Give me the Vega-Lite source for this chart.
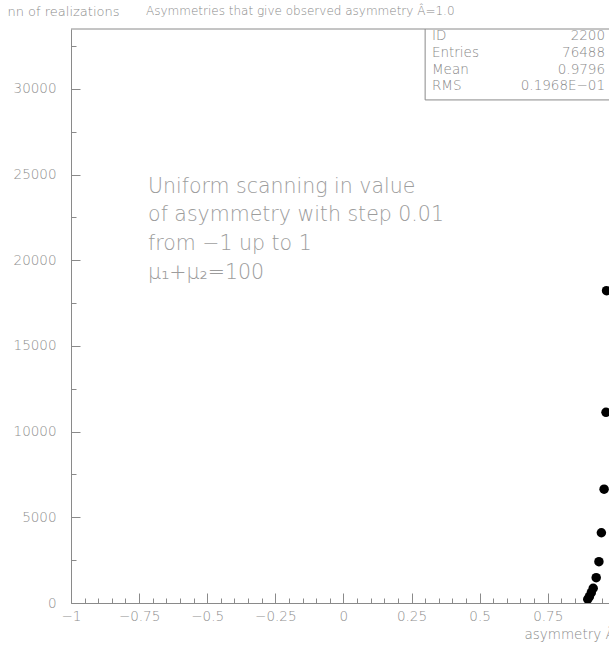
{
  "$schema": "https://vega.github.io/schema/vega-lite/v6.json",
  "width": 538,
  "height": 574,
  "autosize": {"type": "none"},
  "padding": {"left": 71, "top": 29, "right": 0, "bottom": 42},
  "background": "white",
  "config": {
    "view": {"stroke": null},
    "font": "DejaVu Sans",
    "axis": {
      "domainColor": "#8a8a8a",
      "domainWidth": 1,
      "tickColor": "#8a8a8a",
      "tickWidth": 1,
      "grid": false,
      "labelColor": "#8f8f8f",
      "labelFont": "DejaVu Sans",
      "labelFontWeight": 200,
      "labelFontSize": 13.5,
      "titleColor": "#8a8a8a",
      "titleFont": "DejaVu Sans",
      "titleFontWeight": 200,
      "titleFontSize": 13.5
    }
  },
  "datasets": {
    "bins": [
      {"asymmetry": 0.966, "count": 18230},
      {"asymmetry": 0.964, "count": 11130},
      {"asymmetry": 0.957, "count": 6640},
      {"asymmetry": 0.947, "count": 4100},
      {"asymmetry": 0.938, "count": 2410},
      {"asymmetry": 0.928, "count": 1480},
      {"asymmetry": 0.917, "count": 860},
      {"asymmetry": 0.910, "count": 600},
      {"asymmetry": 0.903, "count": 370},
      {"asymmetry": 0.897, "count": 220}
    ],
    "stats": [
      {"row": 0, "label": "ID", "value": "2200"},
      {"row": 1, "label": "Entries", "value": "76488"},
      {"row": 2, "label": "Mean", "value": "0.9796"},
      {"row": 3, "label": "RMS", "value": "0.1968E−01"}
    ]
  },
  "layer": [
    {
      "data": {"name": "bins"},
      "mark": {"type": "circle", "color": "black", "opacity": 1, "size": 90, "clip": true},
      "encoding": {
        "x": {
          "field": "asymmetry",
          "type": "quantitative",
          "scale": {"domain": [-1, 0.975], "nice": false, "zero": false},
          "axis": {
            "values": [-1, -0.95, -0.9, -0.85, -0.8, -0.75, -0.7, -0.65, -0.6, -0.55, -0.5, -0.45, -0.4, -0.35, -0.3, -0.25, -0.2, -0.15, -0.1, -0.05, 0, 0.05, 0.1, 0.15, 0.2, 0.25, 0.3, 0.35, 0.4, 0.45, 0.5, 0.55, 0.6, 0.65, 0.7, 0.75, 0.8, 0.85, 0.9, 0.95],
            "format": ".2~f",
            "labelExpr": "abs(datum.value*4 - round(datum.value*4)) < 0.001 ? datum.label : ''",
            "tickSize": {"condition": {"test": "abs(datum.value*4 - round(datum.value*4)) < 0.001", "value": -10}, "value": -5},
            "labelPadding": 16,
            "labelFlush": false,
            "labelOverlap": false,
            "title": "asymmetry Â",
            "titleAnchor": null,
            "titleAlign": "left",
            "titleBaseline": "alphabetic",
            "titleX": 453,
            "titleY": 35
          }
        },
        "y": {
          "field": "count",
          "type": "quantitative",
          "scale": {"domain": [0, 33500], "nice": false},
          "axis": {
            "values": [0, 2500, 5000, 7500, 10000, 12500, 15000, 17500, 20000, 22500, 25000, 27500, 30000, 32500],
            "format": "d",
            "labelExpr": "datum.value % 5000 === 0 ? datum.label : ''",
            "tickSize": {"condition": {"test": "datum.value % 5000 === 0", "value": -9}, "value": -5},
            "labelPadding": 24,
            "labelOverlap": false,
            "labelFlush": false,
            "title": "nn of realizations",
            "titleFontSize": 13,
            "titleAngle": 0,
            "titleAnchor": null,
            "titleAlign": "left",
            "titleBaseline": "alphabetic",
            "titleX": -64,
            "titleY": -14
          }
        }
      }
    },
    {
      "data": {"values": [{}]},
      "mark": {"type": "rule", "color": "#8a8a8a", "strokeWidth": 1},
      "encoding": {"y": {"datum": 33500, "type": "quantitative"}}
    },
    {
      "data": {"values": [{}]},
      "mark": {"type": "rect", "fill": "white", "stroke": "#8a8a8a", "strokeWidth": 1, "clip": true},
      "encoding": {
        "x": {
          "datum": 0.3,
          "type": "quantitative",
          "axis": {
            "values": [-1, -0.95, -0.9, -0.85, -0.8, -0.75, -0.7, -0.65, -0.6, -0.55, -0.5, -0.45, -0.4, -0.35, -0.3, -0.25, -0.2, -0.15, -0.1, -0.05, 0, 0.05, 0.1, 0.15, 0.2, 0.25, 0.3, 0.35, 0.4, 0.45, 0.5, 0.55, 0.6, 0.65, 0.7, 0.75, 0.8, 0.85, 0.9, 0.95],
            "title": "asymmetry Â"
          }
        },
        "x2": {"datum": 1.2},
        "y": {"datum": 29360, "type": "quantitative"},
        "y2": {"datum": 33500}
      }
    },
    {
      "data": {"name": "stats"},
      "mark": {"type": "text", "align": "left", "baseline": "top", "fontSize": 13.5, "fontWeight": 200, "color": "#888888"},
      "encoding": {
        "x": {
          "datum": 0.325,
          "type": "quantitative",
          "axis": {
            "values": [-1, -0.95, -0.9, -0.85, -0.8, -0.75, -0.7, -0.65, -0.6, -0.55, -0.5, -0.45, -0.4, -0.35, -0.3, -0.25, -0.2, -0.15, -0.1, -0.05, 0, 0.05, 0.1, 0.15, 0.2, 0.25, 0.3, 0.35, 0.4, 0.45, 0.5, 0.55, 0.6, 0.65, 0.7, 0.75, 0.8, 0.85, 0.9, 0.95],
            "title": "asymmetry Â"
          }
        },
        "y": {"datum": 33480, "type": "quantitative"},
        "yOffset": {"field": "row", "type": "ordinal", "scale": {"type": "point", "range": [0, 50], "padding": 0}},
        "text": {"field": "label"}
      }
    },
    {
      "data": {"name": "stats"},
      "mark": {"type": "text", "align": "right", "baseline": "top", "fontSize": 13.5, "fontWeight": 200, "color": "#888888"},
      "encoding": {
        "x": {
          "datum": 0.9604,
          "type": "quantitative",
          "axis": {
            "values": [-1, -0.95, -0.9, -0.85, -0.8, -0.75, -0.7, -0.65, -0.6, -0.55, -0.5, -0.45, -0.4, -0.35, -0.3, -0.25, -0.2, -0.15, -0.1, -0.05, 0, 0.05, 0.1, 0.15, 0.2, 0.25, 0.3, 0.35, 0.4, 0.45, 0.5, 0.55, 0.6, 0.65, 0.7, 0.75, 0.8, 0.85, 0.9, 0.95],
            "title": "asymmetry Â"
          }
        },
        "y": {"datum": 33480, "type": "quantitative"},
        "yOffset": {"field": "row", "type": "ordinal", "scale": {"type": "point", "range": [0, 50], "padding": 0}},
        "text": {"field": "value"}
      }
    },
    {
      "data": {"values": [{}]},
      "mark": {"type": "text", "align": "left", "baseline": "top", "fontSize": 20.5, "fontWeight": 200, "color": "#9c9c9c", "lineHeight": 28.7},
      "encoding": {
        "x": {
          "datum": -0.717,
          "type": "quantitative",
          "axis": {
            "values": [-1, -0.95, -0.9, -0.85, -0.8, -0.75, -0.7, -0.65, -0.6, -0.55, -0.5, -0.45, -0.4, -0.35, -0.3, -0.25, -0.2, -0.15, -0.1, -0.05, 0, 0.05, 0.1, 0.15, 0.2, 0.25, 0.3, 0.35, 0.4, 0.45, 0.5, 0.55, 0.6, 0.65, 0.7, 0.75, 0.8, 0.85, 0.9, 0.95],
            "title": "asymmetry Â"
          }
        },
        "y": {"datum": 24880, "type": "quantitative"},
        "text": {"value": ["Uniform scanning in value", "of asymmetry with step 0.01", "from −1 up to 1", "μ₁+μ₂=100"]}
      }
    },
    {
      "data": {"values": [{}]},
      "mark": {"type": "text", "align": "left", "baseline": "alphabetic", "fontSize": 12, "fontWeight": 200, "color": "#888888"},
      "encoding": {
        "x": {
          "datum": -0.7247,
          "type": "quantitative",
          "axis": {
            "values": [-1, -0.95, -0.9, -0.85, -0.8, -0.75, -0.7, -0.65, -0.6, -0.55, -0.5, -0.45, -0.4, -0.35, -0.3, -0.25, -0.2, -0.15, -0.1, -0.05, 0, 0.05, 0.1, 0.15, 0.2, 0.25, 0.3, 0.35, 0.4, 0.45, 0.5, 0.55, 0.6, 0.65, 0.7, 0.75, 0.8, 0.85, 0.9, 0.95],
            "title": "asymmetry Â"
          }
        },
        "y": {"datum": 34326, "type": "quantitative"},
        "text": {"value": "Asymmetries that give observed asymmetry Â=1.0"}
      }
    }
  ]
}
